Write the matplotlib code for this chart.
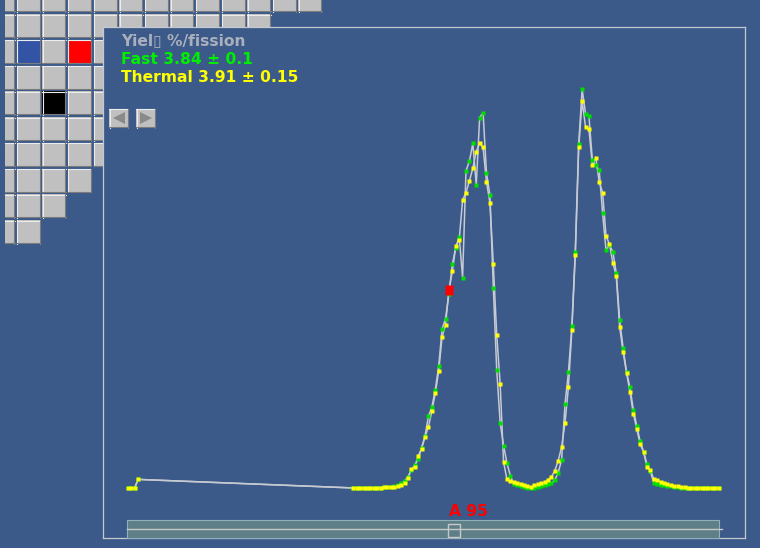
import matplotlib
matplotlib.use('Agg')
import matplotlib.pyplot as plt
from matplotlib.patches import Rectangle, Polygon
from matplotlib.path import Path

# ── Data: chain yields (%/fission) vs mass number ─────────────────────────
mass_number = [1, 2, 3, 4] + list(range(67, 175))

yield_thermal = [
    0.0, 0.0, 0.01, 0.17,
    # A 67-79
    0.001, 0.001, 0.002, 0.002, 0.003, 0.004, 0.006, 0.008, 0.01, 0.012, 0.015, 0.02, 0.025,
    # A 80-89
    0.03, 0.05, 0.10, 0.20, 0.37, 0.42, 0.63, 0.78, 1.01, 1.21,
    # A 90-99
    1.52, 1.87, 2.31, 2.99, 3.22, 3.91, 4.28, 4.78, 4.90, 5.69,
    # A 100-109
    5.84, 6.07, 6.32, 6.65, 6.81, 6.73, 6.05, 5.64, 4.42, 3.02,
    # A 110-119
    2.06, 0.51, 0.17, 0.13, 0.11, 0.09, 0.07, 0.06, 0.04, 0.02,
    # A 120-129
    0.05, 0.07, 0.09, 0.11, 0.16, 0.22, 0.34, 0.54, 0.81, 1.29,
    # A 130-139
    2.00, 3.13, 4.60, 6.73, 7.65, 7.14, 7.09, 6.38, 6.53, 6.05,
    # A 140-149
    5.84, 4.98, 4.82, 4.45, 4.19, 3.18, 2.69, 2.28, 1.90, 1.47,
    # A 150-159
    1.17, 0.87, 0.71, 0.42, 0.35, 0.17, 0.16, 0.12, 0.09, 0.07,
    # A 160-169
    0.05, 0.04, 0.03, 0.02, 0.015, 0.01, 0.008, 0.006, 0.005, 0.004,
    # A 170-174
    0.003, 0.002, 0.002, 0.001, 0.001,
]

yield_fast = [
    0.0, 0.0, 0.01, 0.17,
    # A 67-79
    0.001, 0.001, 0.002, 0.002, 0.003, 0.004, 0.005, 0.007, 0.009, 0.012, 0.015, 0.02, 0.03,
    # A 80-89
    0.05, 0.09, 0.14, 0.22, 0.36, 0.45, 0.57, 0.80, 1.03, 1.42,
    # A 90-99
    1.60, 1.94, 2.41, 3.14, 3.35, 3.84, 4.42, 4.75, 4.97, 4.16,
    # A 100-109
    6.27, 6.46, 6.81, 5.99, 7.32, 7.42, 6.23, 5.79, 3.96, 2.33,
    # A 110-119
    1.29, 0.84, 0.49, 0.24, 0.07, 0.05, 0.03, 0.02, 0.01, 0.0,
    # A 120-129
    0.01, 0.02, 0.03, 0.05, 0.07, 0.09, 0.16, 0.30, 0.56, 1.67,
    # A 130-139
    2.29, 3.20, 4.67, 6.79, 7.88, 7.40, 7.35, 6.48, 6.38, 6.28,
    # A 140-149
    5.43, 4.70, 4.80, 4.67, 4.25, 3.32, 2.77, 2.30, 1.99, 1.55,
    # A 150-159
    1.23, 0.92, 0.72, 0.47, 0.33, 0.10, 0.08, 0.06, 0.05, 0.04,
    # A 160-169
    0.03, 0.02, 0.015, 0.01, 0.008, 0.006, 0.005, 0.004, 0.003, 0.002,
    # A 170-174
    0.002, 0.001, 0.001, 0.001, 0.001,
]

selected_A = 95
fast_value, fast_err = 3.84, 0.1
thermal_value, thermal_err = 3.91, 0.15
title_label = "Yiel\u25af %/fission"

# ── Style ────────────────────────────────────────────────────────────────
BG = '#3b5a8a'
FRAME = '#c4c8d0'
LINE = '#c6cad2'
GREEN = '#00e000'
YELLOW = '#ffff00'
TILE = '#c0c0c0'

W, H = 760, 548
fig = plt.figure(figsize=(W / 100, H / 100), dpi=100, facecolor=BG)

# ── Nuclide chart tiles behind the panel ─────────────────────────────────
ax_bg = fig.add_axes([0, 0, 1, 1], zorder=0)
ax_bg.set_xlim(0, W)
ax_bg.set_ylim(H, 0)
ax_bg.axis('off')

tiles_per_row = [13, 11, 7, 7, 7, 7, 7, 4, 3, 2]
special_tiles = {(2, 1): '#3354a4', (2, 3): '#ff0000', (4, 2): '#000000'}
pitch_x, pitch_y, tw, th = 25.6, 25.75, 23.5, 23.5
x_first, y_first = 16.7 - pitch_x, 14 - pitch_y


def bevel_box(ax, x0, y0, w, h, fc, clip_left=5):
    xl = max(x0, clip_left)
    ax.add_patch(Rectangle((xl, y0), x0 + w - xl, h, facecolor=fc,
                           edgecolor='none', zorder=1))
    ax.plot([xl, x0 + w], [y0 + 0.5, y0 + 0.5], color='#ececec', lw=0.8, zorder=2)
    if x0 >= clip_left:
        ax.plot([x0 + 0.5, x0 + 0.5], [y0, y0 + h], color='#ececec', lw=0.8, zorder=2)
    ax.plot([xl, x0 + w], [y0 + h - 0.5, y0 + h - 0.5], color='#7c7c7c', lw=0.8, zorder=2)
    ax.plot([x0 + w - 0.5, x0 + w - 0.5], [y0, y0 + h], color='#7c7c7c', lw=0.8, zorder=2)


for r, ncol in enumerate(tiles_per_row):
    for c in range(ncol):
        fc = special_tiles.get((r, c), TILE)
        bevel_box(ax_bg, x_first + c * pitch_x, y_first + r * pitch_y, tw, th, fc)

# ── Yield panel ──────────────────────────────────────────────────────────
ax = fig.add_axes([103 / W, 10 / H, 642 / W, 511 / H], zorder=2)
ax.set_facecolor(BG)
for sp in ax.spines.values():
    sp.set_color(FRAME)
    sp.set_linewidth(0.9)
ax.set_xticks([])
ax.set_yticks([])
ax.set_xlim(-6.3, 181.7)
ax.set_ylim(-0.988, 9.111)

ax.plot(mass_number, yield_fast, color=LINE, lw=1.1, zorder=2)
ax.plot(mass_number, yield_thermal, color=LINE, lw=1.1, zorder=2)
ax.plot(mass_number, yield_fast, ls='none', marker='s', ms=3.0,
        mfc=GREEN, mec='none', zorder=3)
ax.plot(mass_number, yield_thermal, ls='none', marker='s', ms=3.0,
        mfc=YELLOW, mec='none', zorder=4)

# selected mass chain
tall_box = Path([(-0.36, -0.5), (0.36, -0.5), (0.36, 0.5), (-0.36, 0.5), (-0.36, -0.5)])
sel_y = yield_thermal[mass_number.index(selected_A)]
ax.plot([selected_A], [sel_y], ls='none', marker=tall_box, ms=7.7,
        mfc='#ff0000', mec='none', zorder=5)

# ── UI overlay (labels, buttons, slider) ─────────────────────────────────
ax_ui = fig.add_axes([0, 0, 1, 1], zorder=3)
ax_ui.set_xlim(0, W)
ax_ui.set_ylim(H, 0)
ax_ui.axis('off')
ax_ui.patch.set_alpha(0)

ax_ui.text(121, 45, title_label, color='#a9afbb', fontsize=11.2,
           fontweight='bold', va='baseline', ha='left')
ax_ui.text(121, 63.5, f"Fast {fast_value} \u00b1 {fast_err}", color='#00ee00',
           fontsize=11.2, fontweight='bold', va='baseline', ha='left')
ax_ui.text(121, 82, f"Thermal {thermal_value} \u00b1 {thermal_err}", color=YELLOW,
           fontsize=11.2, fontweight='bold', va='baseline', ha='left')

# arrow buttons
bevel_box(ax_ui, 109, 108.5, 19, 19, TILE)
bevel_box(ax_ui, 136, 108.5, 19, 19, TILE)
ax_ui.add_patch(Polygon([(125, 112), (125, 124), (113, 118)], closed=True,
                        facecolor='#8a8a8a', edgecolor='none', zorder=3))
ax_ui.add_patch(Polygon([(140, 112), (140, 124), (152, 118)], closed=True,
                        facecolor='#8a8a8a', edgecolor='none', zorder=3))

# slider
ax_ui.add_patch(Rectangle((127, 520), 592, 17.5, facecolor='#5f7f88',
                          edgecolor='#8fb0bc', lw=0.8, zorder=1))
ax_ui.plot([127, 722], [528.5, 528.5], color='#c8c8c8', lw=1.0, zorder=2)
sel_px = ax.transData.transform((selected_A, 0))[0]
ax_ui.add_patch(Rectangle((sel_px - 1, 524), 12, 12.5, facecolor='none',
                          edgecolor='#c8c8c8', lw=1.0, zorder=3))
ax_ui.text(sel_px, 516.5, f"A {selected_A}", color='#ff0000', fontsize=11.2,
           fontweight='bold', va='baseline', ha='left')

fig.savefig('out.png', dpi=100, facecolor=BG)
plt.close(fig)
